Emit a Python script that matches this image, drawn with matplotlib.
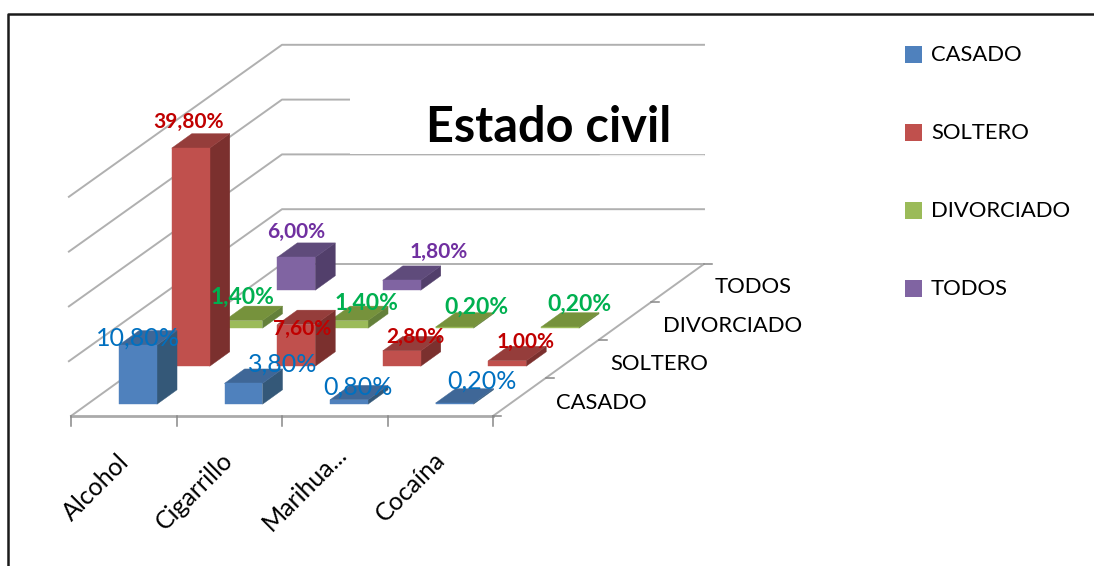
import matplotlib
matplotlib.use('Agg')
import matplotlib.pyplot as plt
from matplotlib.patches import Rectangle

plt.rcParams['font.family'] = ['Lato', 'DejaVu Sans']

# ---------------------------------------------------------------------------
# Data
# ---------------------------------------------------------------------------

CATEGORIES = ['Alcohol', 'Cigarrillo', 'Marihua...', 'Cocaína']
SERIES = ['CASADO', 'SOLTERO', 'DIVORCIADO', 'TODOS']

CASADO = [10.8, 3.8, 0.8, 0.2]
SOLTERO = [39.8, 7.6, 2.8, 1.0]
DIVORCIADO = [1.4, 1.4, 0.2, 0.2]
TODOS = [6.0, 1.8, None, None]

VALUES = [CASADO, SOLTERO, DIVORCIADO, TODOS]
GRID_VALUES = [0, 10, 20, 30, 40]

# ---------------------------------------------------------------------------
# Style: (front, top, side) for each series
# ---------------------------------------------------------------------------

FACE_COLORS = [
    ('#4f81bd', '#3f6797', '#345878'),
    ('#c0504d', '#953d3b', '#7b302e'),
    ('#9bbb59', '#76923c', '#64803a'),
    ('#8064a2', '#5f4b7b', '#523f6b'),
]
LABEL_STYLE = [
    ('#0070c0', 'normal', 18),
    ('#c00000', 'bold', 15),
    ('#00b050', 'bold', 16.5),
    ('#7030a0', 'bold', 15),
]
# hand placed data labels (pixels), same order as VALUES
LABEL_POS = [
    [(138, 338), (283, 364), (358, 387), (482, 381)],
    [(189, 122), (302, 329), (415, 337), (526, 342)],
    [(243, 297), (366, 303), (476, 307), (579, 304)],
    [(296, 232), (439, 252), None, None],
]
CATEGORY_POS = [(96, 487), (194, 491), (305, 488), (410, 487)]
SERIES_POS = [(601, 403), (659, 364), (733, 326), (753, 287)]
LEGEND_Y = [55, 133, 211, 289]

GRID_COLOR = '#b0b0b0'
ORIGIN = (71, 416)
CELL_W = 105.5
CELL_DX = 52.75
CELL_DY = -38.0
PX_PER_UNIT = 5.48
BAR_U = (0.30, 0.66)
BAR_D = (0.31, 0.69)


def project(u, d, z=0):
    """Oblique projection of (category, series, value) to pixel coords."""
    x = ORIGIN[0] + CELL_W * u + CELL_DX * d
    y = ORIGIN[1] + CELL_DY * d - PX_PER_UNIT * z
    return x, y


def draw_bar(ax, cat, ser, value, colors):
    u0, u1 = cat + BAR_U[0], cat + BAR_U[1]
    d0, d1 = ser + BAR_D[0], ser + BAR_D[1]
    front = [project(u0, d0), project(u1, d0), project(u1, d0, value), project(u0, d0, value)]
    top = [project(u0, d0, value), project(u1, d0, value), project(u1, d1, value), project(u0, d1, value)]
    side = [project(u1, d0), project(u1, d1), project(u1, d1, value), project(u1, d0, value)]
    for poly, color in zip((side, top, front), (colors[2], colors[1], colors[0])):
        ax.fill(*zip(*poly), color=color, lw=0.3, zorder=3)


fig = plt.figure(figsize=(10.94, 5.66), dpi=100, facecolor='white')
ax = fig.add_axes([0, 0, 1, 1])
ax.set_xlim(0, 1094)
ax.set_ylim(566, 0)
ax.axis('off')

# Chart border (only top and left are inside the crop)
ax.plot([8, 8, 1094], [566, 14, 14], color='#1a1a1a', lw=1.8, zorder=6)

# Walls
n_cat, n_ser = len(CATEGORIES), len(SERIES)
for g in GRID_VALUES[1:]:
    ax.plot(*zip(project(-0.02, 0, g), project(0, n_ser, g), project(n_cat, n_ser, g)),
            color=GRID_COLOR, lw=1.4, zorder=1)

# The title box hides part of the back wall
ax.add_patch(Rectangle((350, 70), 370, 84, facecolor='white', edgecolor='none', zorder=1.5))
ax.plot([600, 703], [155, 155], color='#eeeeee', lw=1, zorder=1.6)

# Floor
ax.plot(*zip(project(0, 0), project(0, n_ser), project(n_cat, n_ser), project(n_cat, 0)),
        color=GRID_COLOR, lw=1.4, zorder=1.7)
ax.plot(*zip(project(0, 0), project(n_cat, 0)), color='#aaaaaa', lw=2, zorder=2)
for c in range(n_cat + 1):
    x, y = project(c, 0)
    ax.plot([x, x], [y, y + 10], color='#888888', lw=1.1, zorder=2)
for s in range(n_ser + 1):
    x, y = project(n_cat, s)
    ax.plot([x, x + 8], [y, y], color='#888888', lw=1.1, zorder=2)

# Bars, back row first
for s in reversed(range(n_ser)):
    for c in range(n_cat):
        if VALUES[s][c] is not None:
            draw_bar(ax, c, s, VALUES[s][c], FACE_COLORS[s])

# Data labels
for s in range(n_ser):
    color, weight, size = LABEL_STYLE[s]
    for c in range(n_cat):
        if VALUES[s][c] is None:
            continue
        label = f'{VALUES[s][c]:.2f}%'.replace('.', ',')
        ax.text(*LABEL_POS[s][c], label, color=color, fontweight=weight, fontsize=size,
                ha='center', va='center', zorder=5)

# Axis labels
for name, (x, y) in zip(CATEGORIES, CATEGORY_POS):
    ax.text(x, y, name, rotation=45, fontsize=18, color='black', ha='center', va='center', zorder=5)
for name, (x, y) in zip(SERIES, SERIES_POS):
    ax.text(x, y, name, fontsize=15.8, color='black', ha='center', va='center', zorder=5)

# Title
ax.text(549, 128, 'Estado civil', fontsize=35, fontweight='bold', color='black',
        ha='center', va='center', zorder=5)

# Legend
for name, y, colors in zip(SERIES, LEGEND_Y, FACE_COLORS):
    ax.add_patch(Rectangle((905, y - 9), 17, 17, facecolor=colors[0], edgecolor='none', zorder=5))
    ax.text(931, y, name, fontsize=15.8, color='black', ha='left', va='center', zorder=5)

fig.savefig('out.png', dpi=100, facecolor='white')
